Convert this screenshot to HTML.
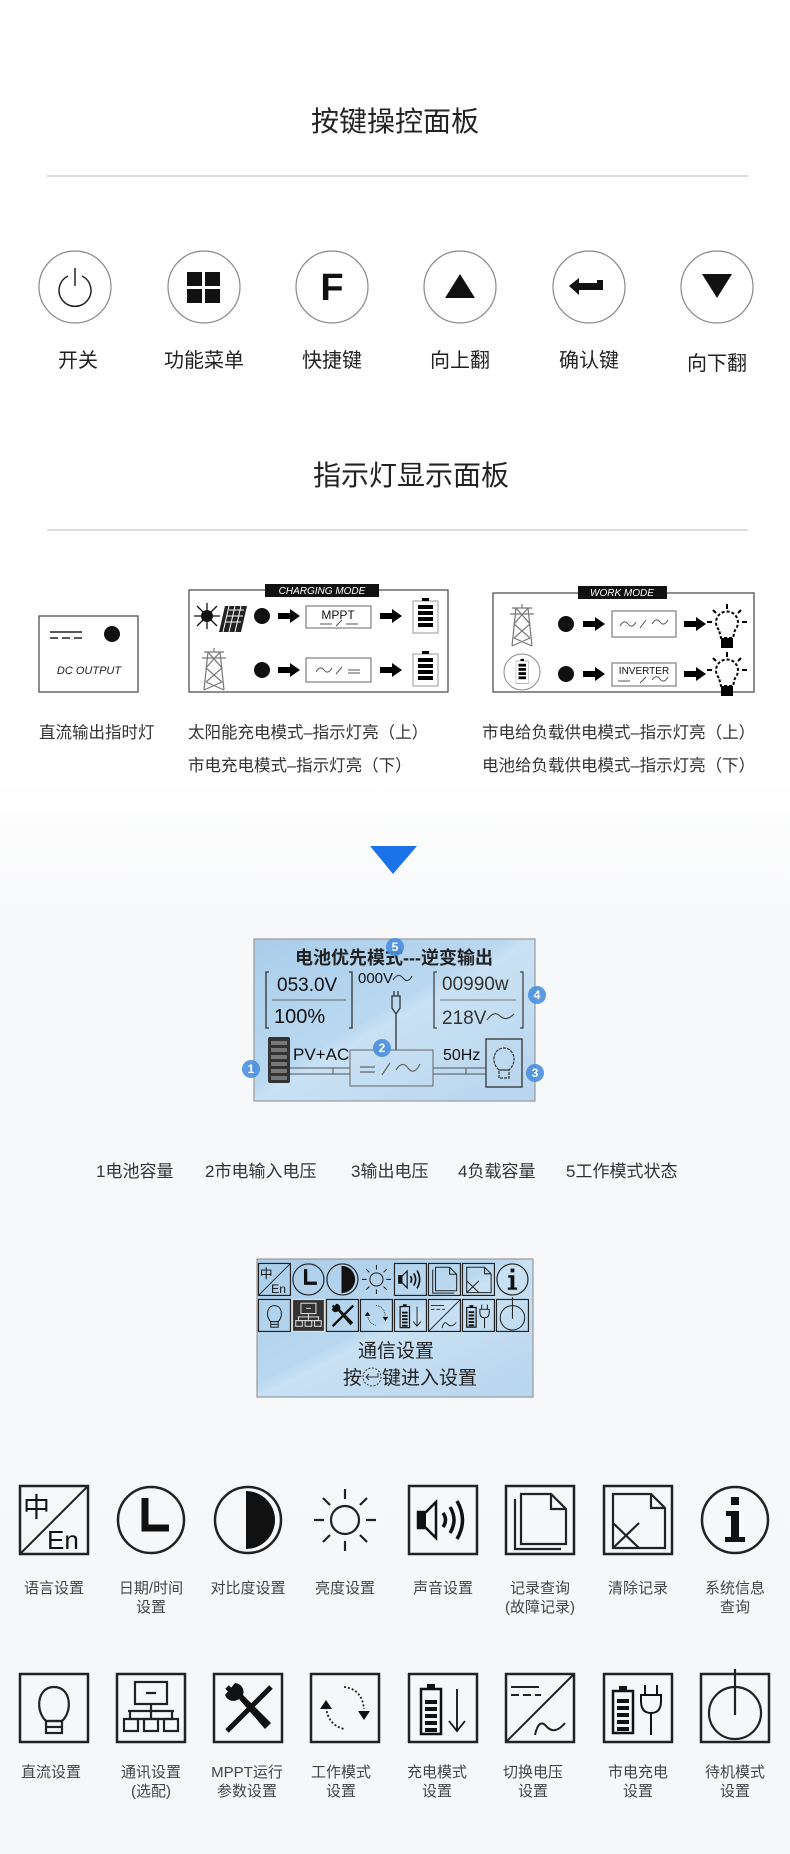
<!DOCTYPE html>
<html><head><meta charset="utf-8">
<style>
html,body{margin:0;padding:0;background:#fff;}
svg{display:block;}
text{font-family:"Liberation Sans","Noto Sans CJK SC",sans-serif;}
</style></head>
<body>
<svg width="790" height="1854" viewBox="0 0 790 1854" xmlns="http://www.w3.org/2000/svg">
<defs>
<linearGradient id="bg" x1="0" y1="0" x2="0" y2="1">
<stop offset="0" stop-color="#ffffff"/><stop offset="0.42" stop-color="#ffffff"/><stop offset="0.5" stop-color="#f7f8fa"/><stop offset="1" stop-color="#f6f7f9"/>
</linearGradient>
<linearGradient id="lcd" x1="0" y1="0" x2="1" y2="1">
<stop offset="0" stop-color="#a9cdea"/><stop offset="0.45" stop-color="#b9d8f0"/><stop offset="0.5" stop-color="#c9e1f4"/><stop offset="1" stop-color="#b7d5ee"/>
</linearGradient>
<g id="arrow"><rect x="0" y="-3" width="14" height="6" fill="#000"/><path d="M12 -7 L22 0 L12 7 Z" fill="#000"/></g>
<g id="batt"><rect x="0" y="0" width="25" height="32" fill="#fff" stroke="#999" stroke-width="1"/><rect x="9" y="-3" width="7" height="3" fill="#000"/><rect x="5" y="4" width="15" height="4" fill="#000"/><rect x="5" y="10" width="15" height="4" fill="#000"/><rect x="5" y="16" width="15" height="4" fill="#000"/><rect x="5" y="22" width="15" height="4" fill="#000"/></g>
<g id="tower" fill="none" stroke="#777" stroke-width="1.2"><path d="M16 0 V4 M6 4 H26 M4 10 H28 M10 4 L6 42 M22 4 L26 42 M10 4 L24 20 L8 34 M22 4 L8 20 L24 34 M8 34 L26 42 M24 34 L6 42"/></g>
<g id="bulbs" fill="none" stroke="#000" stroke-width="2"><path d="M-8 6 A11 11 0 1 1 8 6 L6 14 H-6 Z" stroke-dasharray="3 2"/><rect x="-5" y="15" width="10" height="8" fill="#000"/><path d="M0 -20 V-15 M-14 -14 L-11 -11 M14 -14 L11 -11 M-20 -2 H-15 M20 -2 H15"/></g>
<g id="i1"><rect x="1" y="1" width="68" height="68" fill="none" stroke="#222" stroke-width="2.5"/><path d="M1 69 L69 1" stroke="#222" stroke-width="2"/><text x="4" y="32" font-size="27" fill="#111">中</text><text x="28" y="64" font-size="26" fill="#111">En</text></g>
<g id="i2"><circle cx="35" cy="35" r="33" fill="none" stroke="#222" stroke-width="2.5"/><path d="M29 13 V43 H53" fill="none" stroke="#111" stroke-width="7"/></g>
<g id="i3"><circle cx="35" cy="35" r="33" fill="none" stroke="#222" stroke-width="2.5"/><path d="M33 6 A29 29 0 0 1 33 64 Z" fill="#111"/></g>
<g id="i4" stroke="#222" stroke-width="2.2" fill="none"><circle cx="35" cy="35" r="14"/><path d="M35 4 V14 M35 56 V66 M4 35 H14 M56 35 H66 M13 13 L20 20 M57 13 L50 20 M13 57 L20 50 M57 57 L50 50"/></g>
<g id="i5"><rect x="1" y="1" width="68" height="68" fill="none" stroke="#222" stroke-width="2.5"/><path d="M10 27 H18 L28 17 V53 L18 43 H10 Z" fill="none" stroke="#111" stroke-width="2.5"/><rect x="10" y="27" width="8" height="16" fill="#111"/><path d="M35 28 Q40 35 35 42 M42 22 Q50 35 42 48 M49 16 Q60 35 49 54" fill="none" stroke="#111" stroke-width="3.5"/></g>
<g id="i6" fill="none" stroke="#222" stroke-width="2.2"><rect x="1" y="1" width="68" height="68" stroke-width="2.5"/><path d="M10 14 V64 H56"/><path d="M16 9 H46 L61 24 V59 H16 Z M46 9 V24 H61"/></g>
<g id="i7" fill="none" stroke="#222" stroke-width="2.2"><rect x="1" y="1" width="68" height="68" stroke-width="2.5"/><path d="M10 9 H48 L62 23 V63 H10 Z M48 9 V23 H62 M10 38 L36 63 M10 63 L36 38"/></g>
<g id="i8"><circle cx="35" cy="35" r="33" fill="none" stroke="#222" stroke-width="2.5"/><rect x="31" y="12" width="8" height="8" fill="#111"/><path d="M26 26 H39 V52 H45 V57 H25 V52 H31 V31 H26 Z" fill="#111"/></g>
<g id="i9" fill="none" stroke="#222" stroke-width="2.2"><rect x="1" y="1" width="68" height="68" stroke-width="2.5"/><path d="M27 48 C16 38 18 14 35 14 C52 14 54 38 43 48 Z"/><rect x="27" y="48" width="16" height="12"/><path d="M27 54 H43"/></g>
<g id="i10" fill="none" stroke="#222" stroke-width="2.2"><rect x="1" y="1" width="68" height="68" stroke-width="2.5"/><rect x="19" y="9" width="32" height="22"/><path d="M30 20 H40 M35 31 V38 M12 38 H58 M35 38 V46 M14 38 V46 M56 38 V46 M12 46 H58"/><rect x="8" y="46" width="14" height="12"/><rect x="28" y="46" width="14" height="12"/><rect x="48" y="46" width="14" height="12"/></g>
<g id="i11"><rect x="1" y="1" width="68" height="68" fill="none" stroke="#222" stroke-width="2.5"/><path d="M14 58 L58 14" stroke="#111" stroke-width="5"/><path d="M14 14 L24 24" stroke="#111" stroke-width="5"/><path d="M12 22 A9 9 0 0 0 26 26 L52 56 L58 50 L30 22 A9 9 0 0 0 22 10" fill="#111"/></g>
<g id="i12"><rect x="1" y="1" width="68" height="68" fill="none" stroke="#222" stroke-width="2.5"/><path d="M16 34 Q18 52 34 56 M34 14 Q52 16 54 36" fill="none" stroke="#222" stroke-width="1.8" stroke-dasharray="2 2"/><path d="M10 36 L16 27 L22 36 Z M48 38 L54 47 L60 38 Z" fill="#111"/></g>
<g id="i13"><rect x="1" y="1" width="68" height="68" fill="none" stroke="#222" stroke-width="2.5"/><rect x="13" y="16" width="20" height="45" fill="none" stroke="#111" stroke-width="2.5"/><rect x="19" y="11" width="8" height="5" fill="#111"/><g fill="#111"><rect x="17" y="27" width="12" height="4"/><rect x="17" y="34" width="12" height="4"/><rect x="17" y="41" width="12" height="4"/><rect x="17" y="48" width="12" height="4"/><rect x="17" y="55" width="12" height="4"/></g><path d="M49 16 V58 M41 48 L49 58 L57 48" fill="none" stroke="#111" stroke-width="1.8"/></g>
<g id="i14" fill="none" stroke="#222" stroke-width="2"><rect x="1" y="1" width="68" height="68" stroke-width="2.5"/><path d="M1 69 L69 1"/><path d="M6 14 H34 M6 22 H14 M18 22 H26 M30 22 H36"/><path d="M30 62 Q34 44 42 54 Q50 62 60 50"/></g>
<g id="i15"><rect x="1" y="1" width="68" height="68" fill="none" stroke="#222" stroke-width="2.5"/><rect x="10" y="18" width="20" height="42" fill="none" stroke="#111" stroke-width="2.5"/><rect x="16" y="13" width="8" height="5" fill="#111"/><g fill="#111"><rect x="14" y="26" width="12" height="4"/><rect x="14" y="33" width="12" height="4"/><rect x="14" y="40" width="12" height="4"/><rect x="14" y="47" width="12" height="4"/><rect x="14" y="54" width="12" height="4"/></g><path d="M42 12 V22 M54 12 V22 M38 22 H58 V28 Q58 40 48 40 Q38 40 38 28 Z M48 40 V62" fill="none" stroke="#111" stroke-width="2"/></g>
<g id="i16" fill="none" stroke="#222" stroke-width="2.2"><rect x="1" y="1" width="68" height="68" stroke-width="2.5"/><circle cx="35" cy="40" r="26"/><path d="M35 -4 V42"/></g>
</defs>
<rect width="790" height="1854" fill="url(#bg)"/>

<text x="395" y="131" font-size="28" text-anchor="middle" fill="#222">按键操控面板</text>
<rect x="47" y="175" width="701" height="2" fill="#ddd"/>
<g fill="none" stroke="#888" stroke-width="1.2">
<circle cx="75" cy="287" r="36"/><circle cx="204" cy="287" r="36"/><circle cx="332" cy="287" r="36"/><circle cx="460" cy="287" r="36"/><circle cx="589" cy="287" r="36"/><circle cx="717" cy="287" r="36"/>
</g>
<path d="M68 276 A16 16 0 1 0 82 276" fill="none" stroke="#222" stroke-width="1.5"/><path d="M75 268 V286" stroke="#222" stroke-width="1.5"/>
<g fill="#111"><rect x="187" y="272" width="15" height="14"/><rect x="205" y="272" width="15" height="14"/><rect x="187" y="289" width="15" height="14"/><rect x="205" y="289" width="15" height="14"/></g>
<text x="332" y="300" font-size="38" font-weight="bold" text-anchor="middle" fill="#111">F</text>
<path d="M445 298 L460 274 L475 298 Z" fill="#111"/>
<path d="M569 286 L579 278 V283 H597 V280 H603 V290 H579 V295 Z" fill="#111"/>
<path d="M702 274 H732 L717 298 Z" fill="#111"/>
<g font-size="20" fill="#222" text-anchor="middle">
<text x="78" y="367">开关</text><text x="204" y="367">功能菜单</text><text x="332" y="367">快捷键</text><text x="460" y="367">向上翻</text><text x="589" y="367">确认键</text><text x="717" y="370">向下翻</text>
</g>

<text x="411" y="485" font-size="28" text-anchor="middle" fill="#222">指示灯显示面板</text>
<rect x="47" y="529" width="701" height="2" fill="#ddd"/>

<rect x="39" y="616" width="99" height="76" fill="#fff" stroke="#444" stroke-width="1.2"/>
<path d="M50 632 H82 M50 638 H58 M62 638 H70 M74 638 H82" stroke="#222" stroke-width="1.5"/>
<circle cx="112" cy="634" r="8" fill="#111"/>
<text x="89" y="674" font-size="11" font-style="italic" text-anchor="middle" fill="#222">DC OUTPUT</text>

<rect x="189" y="590" width="259" height="102" fill="#fff" stroke="#444" stroke-width="1.2"/>
<rect x="265" y="584" width="114" height="13" fill="#111"/>
<text x="322" y="594" font-size="10" font-style="italic" text-anchor="middle" fill="#fff">CHARGING MODE</text>
<circle cx="207" cy="616" r="6" fill="#111"/><path d="M197 606 L217 626 M217 606 L197 626 M207 603 V629 M194 616 H220" stroke="#111" stroke-width="1.3"/>
<path d="M225 606 H247 L241 632 H219 Z" fill="#222"/><path d="M229 610 H244 M227 616 H243 M225 622 H241 M229 606 L223 632 M235 606 L229 632 M241 606 L235 632" stroke="#fff" stroke-width="1"/>
<circle cx="262" cy="616" r="8" fill="#111"/><use href="#arrow" x="278" y="616"/>
<rect x="306" y="606" width="65" height="22" fill="#fff" stroke="#666"/>
<text x="338" y="619" font-size="12" text-anchor="middle" fill="#111">MPPT</text>
<path d="M320 624 H332 M336 626 L342 620 M346 624 H358" stroke="#555" stroke-width="1"/>
<use href="#arrow" x="380" y="616"/><use href="#batt" x="413" y="601"/>
<use href="#tower" x="198" y="648"/>
<circle cx="262" cy="670" r="8" fill="#111"/><use href="#arrow" x="278" y="670"/>
<rect x="306" y="658" width="65" height="24" fill="#fff" stroke="#666"/>
<path d="M316 672 Q320 665 324 670 Q328 675 332 668 M336 674 L342 667 M348 670 H360 M348 673 H360" fill="none" stroke="#555" stroke-width="1"/>
<use href="#arrow" x="380" y="670"/><use href="#batt" x="413" y="654"/>

<rect x="493" y="593" width="261" height="99" fill="#fff" stroke="#444" stroke-width="1.2"/>
<rect x="578" y="586" width="89" height="13" fill="#111"/>
<text x="622" y="596" font-size="10" font-style="italic" text-anchor="middle" fill="#fff">WORK MODE</text>
<use href="#tower" x="506" y="604"/>
<circle cx="566" cy="624" r="8" fill="#111"/><use href="#arrow" x="583" y="624"/>
<rect x="612" y="611" width="64" height="26" fill="#fff" stroke="#666"/>
<path d="M620 626 Q624 619 628 624 Q632 629 636 622 M640 628 L646 620 M652 624 Q656 617 660 622 Q664 627 668 620" fill="none" stroke="#555" stroke-width="1"/>
<use href="#arrow" x="684" y="624"/><use href="#bulbs" x="727" y="624"/>
<circle cx="522" cy="672" r="18" fill="#fff" stroke="#888"/><use href="#batt" transform="translate(516,661) scale(0.5,0.7)"/>
<circle cx="566" cy="674" r="8" fill="#111"/><use href="#arrow" x="583" y="674"/>
<rect x="612" y="663" width="64" height="23" fill="#fff" stroke="#666"/>
<text x="644" y="674" font-size="10" text-anchor="middle" fill="#111">INVERTER</text>
<path d="M618 681 H630 M640 683 L646 677 M652 680 Q656 674 660 679 Q664 684 668 677" fill="none" stroke="#555" stroke-width="1"/>
<use href="#arrow" x="684" y="674"/><use href="#bulbs" x="727" y="672"/>

<g font-size="16.5" fill="#333">
<text x="39" y="738">直流输出指时灯</text>
<text x="188" y="738">太阳能充电模式–指示灯亮（上）</text>
<text x="188" y="771">市电充电模式–指示灯亮（下）</text>
<text x="482" y="738">市电给负载供电模式–指示灯亮（上）</text>
<text x="482" y="771">电池给负载供电模式–指示灯亮（下）</text>
</g>

<path d="M370 846 H417 L393 874 Z" fill="#1a73e8"/>

<rect x="254" y="939" width="281" height="162" fill="url(#lcd)" stroke="#999" stroke-width="1.2"/>
<text x="394" y="964" font-size="18" font-weight="bold" text-anchor="middle" fill="#222">电池优先模式---逆变输出</text>
<path d="M269 972 H266 V1028 H269 M349 972 H352 V1028 H349" fill="none" stroke="#333" stroke-width="1.3"/>
<text x="277" y="991" font-size="19" fill="#111">053.0V</text>
<path d="M272 1000 H346" stroke="#666"/>
<text x="274" y="1023" font-size="20" fill="#111">100%</text>
<text x="358" y="983" font-size="15" fill="#111">000V</text>
<path d="M393 980 Q398 972 403 978 Q408 984 412 976" fill="none" stroke="#333"/>
<path d="M392 996 H400 V1008 L396 1014 L392 1008 Z M394 991 V996 M398 991 V996 M396 1014 V1050" fill="none" stroke="#333" stroke-width="1.3"/>
<path d="M437 972 H434 V1028 H437 M520 972 H523 V1028 H520" fill="none" stroke="#444" stroke-width="1.3"/>
<text x="442" y="990" font-size="19" fill="#333">00990w</text>
<path d="M440 1000 H516" stroke="#777"/>
<text x="442" y="1024" font-size="19" fill="#333">218V</text>
<path d="M487 1020 Q494 1010 500 1016 Q506 1022 514 1014" fill="none" stroke="#333"/>
<rect x="268" y="1037" width="22" height="46" fill="#333" rx="2"/>
<g fill="#777"><rect x="271" y="1041" width="16" height="4"/><rect x="271" y="1048" width="16" height="4"/><rect x="271" y="1055" width="16" height="4"/><rect x="271" y="1062" width="16" height="4"/><rect x="271" y="1069" width="16" height="4"/><rect x="271" y="1076" width="16" height="4"/></g>
<text x="293" y="1060" font-size="17" fill="#111">PV+AC</text>
<path d="M290 1068 H350 M290 1074 H350 M333 1068 V1074 M433 1068 H486 M433 1074 H486 M466 1068 V1074" stroke="#555" stroke-width="1"/>
<rect x="350" y="1050" width="83" height="36" fill="none" stroke="#666"/>
<path d="M360 1067 H375 M360 1072 H375 M382 1075 L390 1063 M396 1070 Q402 1060 408 1068 Q414 1076 420 1064" fill="none" stroke="#666" stroke-width="1.2"/>
<text x="443" y="1060" font-size="16" fill="#111">50Hz</text>
<rect x="486" y="1039" width="36" height="48" fill="none" stroke="#333" stroke-width="1.3"/>
<path d="M499 1070 C490 1062 494 1048 504 1048 C514 1048 518 1062 509 1070 Z M499 1070 H509 V1078 H499 Z" fill="none" stroke="#333" stroke-width="1.2" stroke-dasharray="3 1"/>
<g fill="#4a8fe0" opacity="0.9"><circle cx="251" cy="1069" r="9"/><circle cx="382" cy="1048" r="9"/><circle cx="535" cy="1073" r="9"/><circle cx="537" cy="995" r="9"/><circle cx="395" cy="947" r="9"/></g>
<g font-size="12" fill="#fff" text-anchor="middle" font-weight="bold"><text x="251" y="1073">1</text><text x="382" y="1052">2</text><text x="535" y="1077">3</text><text x="537" y="999">4</text><text x="395" y="951">5</text></g>

<g font-size="17" fill="#333">
<text x="96" y="1177">1电池容量</text>
<text x="205" y="1177">2市电输入电压</text>
<text x="351" y="1177">3输出电压</text>
<text x="458" y="1177">4负载容量</text>
<text x="566" y="1177">5工作模式状态</text>
</g>

<rect x="257" y="1259" width="276" height="138" fill="url(#lcd)" stroke="#999" stroke-width="1.2"/>
<g transform="translate(258,1263) scale(0.47)"><use href="#i1"/></g>
<g transform="translate(292,1263) scale(0.47)"><use href="#i2"/></g>
<g transform="translate(326,1263) scale(0.47)"><use href="#i3"/></g>
<g transform="translate(360,1263) scale(0.47)"><use href="#i4"/></g>
<g transform="translate(394,1263) scale(0.47)"><use href="#i5"/></g>
<g transform="translate(428,1263) scale(0.47)"><use href="#i6"/></g>
<g transform="translate(462,1263) scale(0.47)"><use href="#i7"/></g>
<g transform="translate(496,1263) scale(0.47)"><use href="#i8"/></g>
<g transform="translate(258,1299) scale(0.47)"><use href="#i9"/></g>
<rect x="292" y="1299" width="33" height="33" fill="#333"/>
<g transform="translate(292,1299) scale(0.47)" style="filter:invert(1)"><use href="#i10"/></g>
<g transform="translate(326,1299) scale(0.47)"><use href="#i11"/></g>
<g transform="translate(360,1299) scale(0.47)"><use href="#i12"/></g>
<g transform="translate(394,1299) scale(0.47)"><use href="#i13"/></g>
<g transform="translate(428,1299) scale(0.47)"><use href="#i14"/></g>
<g transform="translate(462,1299) scale(0.47)"><use href="#i15"/></g>
<g transform="translate(496,1299) scale(0.47)"><use href="#i16"/></g>
<text x="396" y="1357" font-size="19" text-anchor="middle" fill="#222">通信设置</text>
<text x="343" y="1384" font-size="19" fill="#222">按</text>
<circle cx="372" cy="1377" r="9" fill="none" stroke="#333" stroke-dasharray="2 1.5"/>
<path d="M366 1377 H378 V1373 M366 1377 L369 1374 M366 1377 L369 1380" fill="none" stroke="#333"/>
<text x="382" y="1384" font-size="19" fill="#222">键进入设置</text>

<use href="#i1" x="19" y="1485"/><use href="#i2" x="116" y="1485"/><use href="#i3" x="213" y="1485"/><use href="#i4" x="310" y="1485"/>
<use href="#i5" x="408" y="1485"/><use href="#i6" x="505" y="1485"/><use href="#i7" x="603" y="1485"/><use href="#i8" x="700" y="1485"/>
<use href="#i9" x="19" y="1673"/><use href="#i10" x="116" y="1673"/><use href="#i11" x="213" y="1673"/><use href="#i12" x="310" y="1673"/>
<use href="#i13" x="408" y="1673"/><use href="#i14" x="505" y="1673"/><use href="#i15" x="603" y="1673"/><use href="#i16" x="700" y="1673"/>
<g font-size="15" fill="#444" text-anchor="middle">
<text x="54" y="1593">语言设置</text>
<text x="151" y="1593">日期/时间</text><text x="151" y="1612">设置</text>
<text x="248" y="1593">对比度设置</text>
<text x="345" y="1593">亮度设置</text>
<text x="443" y="1593">声音设置</text>
<text x="540" y="1593">记录查询</text><text x="540" y="1612">(故障记录)</text>
<text x="638" y="1593">清除记录</text>
<text x="735" y="1593">系统信息</text><text x="735" y="1612">查询</text>
<text x="51" y="1777">直流设置</text>
<text x="151" y="1777">通讯设置</text><text x="151" y="1796">(选配)</text>
<text x="247" y="1777">MPPT运行</text><text x="247" y="1796">参数设置</text>
<text x="341" y="1777">工作模式</text><text x="341" y="1796">设置</text>
<text x="437" y="1777">充电模式</text><text x="437" y="1796">设置</text>
<text x="533" y="1777">切换电压</text><text x="533" y="1796">设置</text>
<text x="638" y="1777">市电充电</text><text x="638" y="1796">设置</text>
<text x="735" y="1777">待机模式</text><text x="735" y="1796">设置</text>
</g>
</svg>
</body></html>
